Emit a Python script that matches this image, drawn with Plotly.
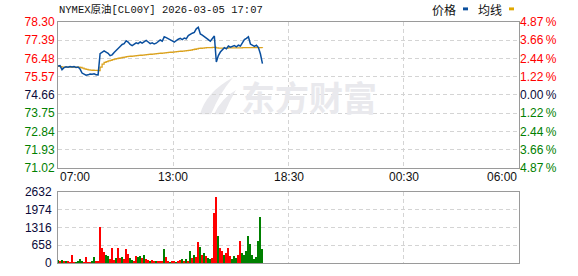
import plotly.graph_objects as go

# ---------------- data ----------------
price = [76.10, 76.12, 75.92, 76.02, 76.06, 76.04, 76.08, 76.05, 76.07, 76.03,
         76.05, 75.95, 75.75, 75.68, 75.64, 75.66, 75.70, 75.69, 75.71, 75.67,
         75.66, 76.72, 76.78, 76.86, 76.80, 76.74, 76.62, 76.66, 76.78, 76.90,
         76.98, 77.08, 77.18, 77.22, 77.36, 77.30, 77.18, 77.12, 77.20, 77.26,
         77.22, 77.30, 77.24, 77.32, 77.38, 77.30, 77.22, 77.26, 77.20, 77.24,
         77.30, 77.40, 77.34, 77.56, 77.52, 77.48, 77.40, 77.36, 77.30, 77.38,
         77.44, 77.48, 77.42, 77.50, 77.46, 77.62, 77.70, 77.74, 77.78, 77.96,
         78.04, 77.70, 77.64, 77.58, 77.50, 77.42, 77.34, 77.46, 77.60, 76.30,
         76.62, 76.80, 76.90, 77.02, 76.96, 77.10, 77.04, 77.08, 77.12, 77.06,
         77.14, 77.10, 77.30, 77.42, 77.48, 77.56, 77.20, 77.12, 77.08, 77.14,
         77.02, 76.70, 76.22]

avg = [76.08, 76.07, 76.05, 76.05, 76.05, 76.05, 76.05, 76.05, 76.05, 76.05,
       76.04, 76.03, 76.00, 75.96, 75.93, 75.91, 75.90, 75.89, 75.88, 75.88,
       75.87, 76.05, 76.20, 76.28, 76.32, 76.36, 76.38, 76.42, 76.45, 76.47,
       76.49, 76.51, 76.53, 76.55, 76.57, 76.58, 76.59, 76.60, 76.61, 76.62,
       76.63, 76.64, 76.65, 76.66, 76.67, 76.68, 76.69, 76.70, 76.71, 76.72,
       76.73, 76.74, 76.75, 76.76, 76.77, 76.78, 76.79, 76.80, 76.81, 76.82,
       76.83, 76.84, 76.85, 76.86, 76.87, 76.88, 76.90, 76.92, 76.94, 76.96,
       76.98, 76.99, 77.00, 77.01, 77.02, 77.02, 77.02, 77.03, 77.03, 77.01,
       77.00, 77.00, 77.00, 77.00, 77.00, 77.01, 77.01, 77.01, 77.01, 77.01,
       77.01, 77.01, 77.02, 77.02, 77.02, 77.02, 77.02, 77.02, 77.02, 77.02,
       77.02, 77.02, 77.01]

volume = [120, 80, 100, 60, 90, 40, 30, 300, 20, 30,
          60, 140, 60, 20, 220, 30, 20, 40, 210, 40,
          60, 1344, 560, 420, 300, 260, 150, 560, 120, 200,
          540, 180, 220, 140, 500, 340, 200, 120, 80, 240,
          220, 260, 180, 300, 160, 120, 80, 110, 60, 40,
          90, 70, 40, 500, 220, 80, 30, 40, 60, 30,
          50, 110, 140, 70, 150, 80, 460, 200, 300, 220,
          760, 600, 300, 360, 240, 180, 140, 200, 1840, 2450,
          1000, 540, 460, 300, 380, 560, 240, 160, 260, 200,
          300, 800, 380, 300, 460, 1000, 720, 280, 160, 220,
          800, 1720, 520]

vol_dir = "grgrgrrrrgggg rrrrggrr rrrggrrrgrrgrrrggrrggrgrrgrrgrrrgrrgrrgrrgrgrgrgrrgrgrggrrrgrrgrrrgggrrggggg".replace(" ", "")

minutes = [6 * i for i in range(len(price))]  # minutes since 07:00

x_tick_vals = [0, 345, 690, 1035, 1380]
x_tick_labels = ["07:00", "13:00", "18:30", "00:30", "06:00"]

price_ticks = [71.02, 71.93, 72.84, 73.75, 74.66, 75.57, 76.48, 77.39, 78.30]
pct_labels = ["4.87", "3.66", "2.44", "1.22", "0.00", "1.22", "2.44", "3.66", "4.87"]
vol_ticks = [0, 658, 1316, 1974, 2632]

title_text = "NYMEX原油[CL00Y] 2026-03-05 17:07"
legend_labels = ["价格", "均线"]
watermark = "东方财富"

# ---------------- styling ----------------
RED = "#ff0000"
GREEN = "#008000"
NAVY = "#0a0a3a"
BLUE = "#0a4f9e"
GOLD = "#dba21e"
GRID = "#d4d4d4"
FRAME = "#9a9a9a"
WM = "#e9e9ed"
DASH = "4px,3px"
FONT = "Liberation Sans, Arial, sans-serif"

W, H = 578, 276
ML, MR, MT, MB = 58, 59, 22, 6
PW, PH = W - ML - MR, H - MT - MB


def px(xp):
    return (xp - ML) / PW


def py(yp):
    return (H - MB - yp) / PH


def pt(xp, yp):
    return "%.5f,%.5f" % (px(xp), py(yp))


def col_for(v, center):
    if abs(v - center) < 1e-9:
        return NAVY
    return RED if v > center else GREEN


center = price_ticks[4]
left_text = ['<span style="color:%s">%.2f</span>' % (col_for(v, center), v) for v in price_ticks]
right_text = ['<span style="color:%s">%s\u2009%%</span>' % (col_for(v, center), s)
              for v, s in zip(price_ticks, pct_labels)]

bar_colors = [RED if (i < len(vol_dir) and vol_dir[i] == "r") else GREEN for i in range(len(volume))]

fig = go.Figure()
fig.add_trace(go.Scatter(x=minutes, y=avg, mode="lines", line=dict(color=GOLD, width=1.3, shape="hv"),
                         xaxis="x", yaxis="y", hoverinfo="skip"))
fig.add_trace(go.Scatter(x=minutes, y=price, mode="lines", line=dict(color=BLUE, width=1.5),
                         xaxis="x", yaxis="y", hoverinfo="skip"))
fig.add_trace(go.Scatter(x=minutes[:1], y=price[:1], mode="markers", marker=dict(opacity=0),
                         xaxis="x", yaxis="y2", hoverinfo="skip"))
fig.add_trace(go.Bar(x=minutes, y=volume, marker=dict(color=bar_colors, line=dict(width=0)),
                     width=4.5, xaxis="x2", yaxis="y3", hoverinfo="skip"))

common_x = dict(range=[0, 1380], tickvals=x_tick_vals, showticklabels=False, showgrid=True,
                gridcolor=GRID, griddash=DASH, gridwidth=1, showline=True, mirror=True,
                linecolor=FRAME, linewidth=1, zeroline=False, ticks="", fixedrange=True)

top_dom = [py(172), 1.0]
vol_dom = [0.0, py(197)]

fig.update_layout(
    width=W, height=H,
    margin=dict(l=ML, r=MR, t=MT, b=MB, pad=0),
    paper_bgcolor="white", plot_bgcolor="white",
    showlegend=False,
    bargap=0,
    xaxis=dict(common_x, anchor="y", domain=[0, 1]),
    xaxis2=dict(common_x, anchor="y3", domain=[0, 1]),
    yaxis=dict(domain=top_dom, range=[price_ticks[0], price_ticks[-1]], tickvals=price_ticks,
               ticktext=left_text, tickfont=dict(family=FONT, size=12), showgrid=True,
               gridcolor=GRID, griddash=DASH, showline=True, mirror=True, linecolor=FRAME,
               zeroline=False, ticks="", anchor="x"),
    yaxis2=dict(overlaying="y", side="right", range=[price_ticks[0], price_ticks[-1]],
                tickvals=price_ticks, ticktext=right_text, tickfont=dict(family=FONT, size=12),
                showgrid=False, zeroline=False, showline=False, ticks="", anchor="x"),
    yaxis3=dict(domain=vol_dom, range=[0, vol_ticks[-1]], tickvals=vol_ticks,
                tickfont=dict(family=FONT, size=12, color=NAVY), showgrid=True,
                gridcolor=GRID, griddash=DASH, showline=True, mirror=True, linecolor=FRAME,
                zeroline=False, ticks="", anchor="x2", ticklabelstandoff=3),
)

ann = []
anchors = ["left", "center", "center", "center", "right"]
for v, t, a in zip(x_tick_vals, x_tick_labels, anchors):
    ann.append(dict(x=v, y=py(182), xref="x", yref="paper", text=t, showarrow=False,
                    xanchor=a, yanchor="middle", font=dict(family=FONT, size=12, color="#111111")))
ann.append(dict(x=px(57), y=py(9), xref="paper", yref="paper", text=title_text, showarrow=False,
                xanchor="left", yanchor="middle",
                font=dict(family="Liberation Mono, Noto Sans CJK SC, monospace", size=10.5, color="#111111")))
ann.append(dict(x=px(430), y=py(9), xref="paper", yref="paper", text=legend_labels[0], showarrow=False,
                xanchor="left", yanchor="middle", font=dict(family="Noto Sans CJK SC", size=12, color="#111111")))
ann.append(dict(x=px(476), y=py(9), xref="paper", yref="paper", text=legend_labels[1], showarrow=False,
                xanchor="left", yanchor="middle", font=dict(family="Noto Sans CJK SC", size=12, color="#111111")))
ann.append(dict(x=px(239), y=py(99), xref="paper", yref="paper", text="<b>" + watermark + "</b>",
                showarrow=False, xanchor="left", yanchor="middle",
                font=dict(family="Noto Sans CJK SC", size=34, color=WM)))
fig.update_layout(annotations=ann)

logo1 = "M %s Q %s %s Q %s %s Z" % (pt(200, 117), pt(206, 94), pt(233, 79), pt(219, 96), pt(211, 117))
logo2 = "M %s Q %s %s Q %s %s Z" % (pt(214, 117), pt(221, 101), pt(236, 92), pt(229, 104), pt(224, 117))
shapes = [
    dict(type="path", xref="paper", yref="paper", path=logo1, fillcolor=WM, line=dict(width=0), layer="below"),
    dict(type="path", xref="paper", yref="paper", path=logo2, fillcolor=WM, line=dict(width=0), layer="below"),
    dict(type="rect", xref="paper", yref="paper", x0=px(463), x1=px(468), y0=py(10), y1=py(7),
         fillcolor=BLUE, line=dict(width=0)),
    dict(type="rect", xref="paper", yref="paper", x0=px(509), x1=px(514), y0=py(10), y1=py(7),
         fillcolor="#e0a800", line=dict(width=0)),
]
fig.update_layout(shapes=shapes)

fig.write_html("out.html")
